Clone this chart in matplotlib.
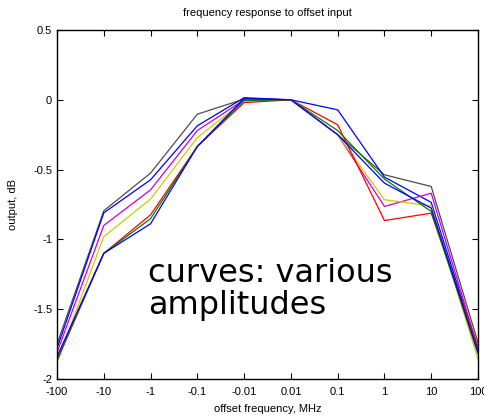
import matplotlib
matplotlib.use("Agg")
import matplotlib.pyplot as plt

categories = ["-100", "-10", "-1", "-0.1", "-0.01", "0.01", "0.1", "1", "10", "100"]

series_black   = [-1.75, -0.795, -0.525, -0.103, 0.005, 0.0, -0.25, -0.537, -0.621, -1.74]
series_blue1   = [-1.78, -0.81, -0.573, -0.186, 0.015, 0.0, -0.072, -0.554, -0.735, -1.79]
series_magenta = [-1.81, -0.90, -0.645, -0.22, 0.0, 0.0, -0.25, -0.764, -0.669, -1.78]
series_yellow  = [-1.88, -0.98, -0.711, -0.27, -0.01, 0.0, -0.25, -0.716, -0.76, -1.86]
series_red     = [-1.87, -1.10, -0.824, -0.334, -0.02, 0.0, -0.179, -0.865, -0.812, -1.77]
series_green   = [-1.86, -1.10, -0.852, -0.334, -0.005, 0.0, -0.22, -0.568, -0.80, -1.82]
series_blue2   = [-1.84, -1.10, -0.888, -0.334, 0.01, 0.0, -0.25, -0.597, -0.776, -1.81]

series = [
    (series_black, "#4d4d4d"),
    (series_blue1, "#0000ff"),
    (series_magenta, "#cc00cc"),
    (series_yellow, "#cccc00"),
    (series_red, "#ff0000"),
    (series_green, "#008000"),
    (series_blue2, "#0000ff"),
]

plt.rcParams['font.family'] = ['Liberation Sans', 'DejaVu Sans']

fig = plt.figure(figsize=(4.85, 4.15), dpi=100)
ax = fig.add_axes([57/485, 1 - 379/415, (478-57)/485, (379-30)/415])

x = list(range(len(categories)))
for vals, c in series:
    ax.plot(x, vals, color=c, linewidth=0.9)

ax.set_xlim(0, len(categories) - 1)
ax.set_ylim(-2, 0.5)
ax.set_xticks(x)
ax.set_xticklabels(categories)
ax.set_yticks([-2, -1.5, -1, -0.5, 0, 0.5])
ax.set_yticklabels(["-2", "-1.5", "-1", "-0.5", "0", "0.5"])
ax.tick_params(direction='in', length=4, labelsize=8, top=True, right=True, width=0.8)
ax.tick_params(axis='x', pad=6)
for s in ax.spines.values():
    s.set_linewidth(1.0)

ax.set_title("frequency response to offset input", fontsize=8, pad=10)
ax.set_xlabel("offset frequency, MHz", fontsize=8, labelpad=5)
ax.set_ylabel("output, dB", fontsize=8, labelpad=11)

ax.text(148/485, 1 - 314/415, "curves: various\namplitudes", transform=fig.transFigure,
        fontsize=23, family=['DejaVu Sans'], ha='left', va='baseline', linespacing=1.05)

fig.savefig("out.png", dpi=100)
